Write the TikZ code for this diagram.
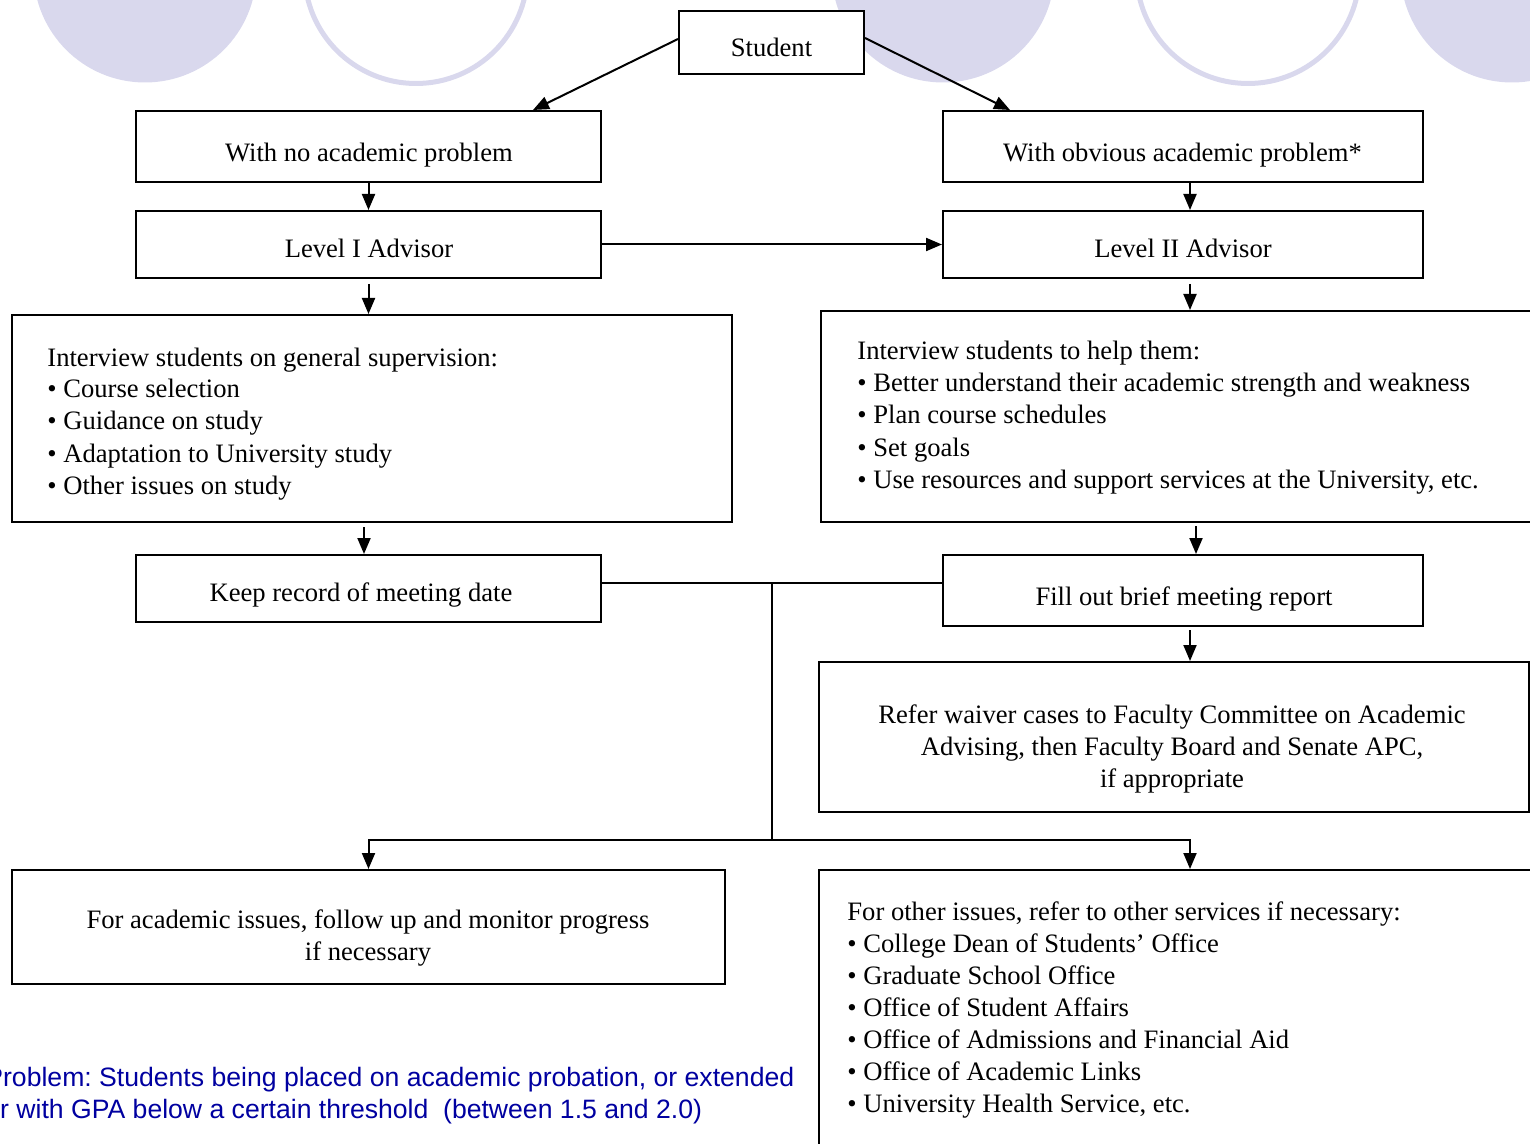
\documentclass[tikz,border=0pt]{standalone}
\usepackage{fontspec}
\setmainfont{Liberation Serif}
\setsansfont{Liberation Sans}
\usetikzlibrary{arrows.meta,calc}
\definecolor{lav}{RGB}{217,216,237}
\definecolor{probblue}{RGB}{0,0,160}
\frenchspacing
\newcommand\Lft[1]{\vtop{\halign{##\hfil\cr#1\crcr}}}
\newcommand\Ctr[1]{\vtop{\halign{\hfil##\hfil\cr#1\crcr}}}
\begin{document}
\begin{tikzpicture}[x=0.5pt,y=-0.5pt,
  bx/.style 2 args={draw, line width=1pt, minimum width=#1*0.5pt, minimum height=#2*0.5pt, inner sep=0pt},
  txt/.style={inner sep=0pt, font=\fontsize{13.3}{16}\selectfont},
  arr/.style={line width=1pt, -{Triangle[width=6.5pt,length=8pt]}},
  ln/.style={line width=1pt},
  disc/.style={fill=lav, draw=none},
  ring/.style={draw=lav, line width=2.5pt}]
\useasboundingbox (0,0) rectangle (1530,1144);
\clip (0,0) rectangle (1530,1144);
% background circles
\fill[disc] (145,-29) circle[radius=55.75pt];
\fill[disc] (943,-29) circle[radius=55.75pt];
\fill[disc] (1512,-29) circle[radius=55.75pt];
\draw[ring] (416,-28) circle[radius=55.75pt];
\draw[ring] (1248,-28) circle[radius=55.75pt];
% boxes
\node[bx={185}{63}, fill=white] (stu) at (771.5,42.5) {};
\node[bx={465}{71}] (nap) at (368.5,146.5) {};
\node[bx={480}{71}] (oap) at (1183,146.5) {};
\node[bx={465}{67}] (l1) at (368.5,244.5) {};
\node[bx={480}{67}] (l2) at (1183,244.5) {};
\node[bx={720}{207}] (intl) at (372,418.5) {};
\node[bx={738}{211}] (intr) at (1190,416.5) {};
\node[bx={465}{67}] (keep) at (368.5,588.5) {};
\node[bx={480}{71}] (fill) at (1183,590.5) {};
\node[bx={710}{150}] (refer) at (1174,737) {};
\node[bx={713}{114}] (acad) at (368.5,927) {};
\node[bx={742}{310}] (other) at (1190,1025) {};
% texts
\node[txt, anchor=base] (tstu) at (771.5,57) {Student};
\node[txt, anchor=base] (tnap) at (369,162) {With no academic problem};
\node[txt, anchor=base] (toap) at (1182.5,162) {With obvious academic problem*};
\node[txt, anchor=base] (tl1) at (369,258) {Level I Advisor};
\node[txt, anchor=base] (tl2) at (1183,258) {Level II Advisor};
\node[txt, anchor=base west] (tintl) at (47,366) {\Lft{Interview students on general supervision:\cr
• Course selection\cr
• Guidance on study\cr
• Adaptation to University study\cr
• Other issues on study}};
\node[txt, anchor=base west] (tintr) at (857,360) {\Lft{Interview students to help them:\cr
• Better understand their academic strength and weakness\cr
• Plan course schedules\cr
• Set goals\cr
• Use resources and support services at the University, etc.}};
\node[txt, anchor=base] (tkeep) at (361,601) {Keep record of meeting date};
\node[txt, anchor=base] (tfill) at (1184,605) {Fill out brief meeting report};
\node[txt, anchor=base] (trefer) at (1172,723) {\Ctr{Refer waiver cases to Faculty Committee on Academic\cr
Advising, then Faculty Board and Senate APC,\cr
if appropriate}};
\node[txt, anchor=base] (tacad) at (368,928) {\Ctr{For academic issues, follow up and monitor progress\cr
if necessary}};
\node[txt, anchor=base west] (tother) at (847,920) {\Lft{For other issues, refer to other services if necessary:\cr
• College Dean of Students’ Office\cr
• Graduate School Office\cr
• Office of Student Affairs\cr
• Office of Admissions and Financial Aid\cr
• Office of Academic Links\cr
• University Health Service, etc.}};
\node[txt, anchor=base west, text=probblue, font=\sffamily\fontsize{13.3}{16}\selectfont] (note) at (-15,1086) {\Lft{Problem: Students being placed on academic probation, or extended\cr
or with GPA below a certain threshold\ \ (between 1.5 and 2.0)}};
% connectors
\coordinate (rc) at (1190,0);
\coordinate (rc2) at (1196,0);
\coordinate (lc2) at (364,0);
\draw[arr] ($(stu.west)+(0,-3.5)$) -- ($(nap.north)+(164.5,0)$);
\draw[arr] ($(stu.east)+(0,-4.5)$) -- ($(oap.north)+(-173,0)$);
\draw[arr] (nap.south) -- (l1.north);
\draw[arr] (oap.south -| rc) -- (l2.north -| rc);
\draw[arr] (l1.east) -- (l2.west);
\draw[arr] ($(l1.south)+(0,5)$) -- (intl.north -| l1.south);
\draw[arr] ($(l2.south -| rc)+(0,5)$) -- (intr.north -| rc);
\draw[arr] ($(intl.south -| lc2)+(0,4)$) -- (keep.north -| lc2);
\draw[arr] ($(intr.south -| rc2)+(0,3)$) -- (fill.north -| rc2);
\draw[arr] ($(fill.south -| rc)+(0,3)$) -- (refer.north -| rc);
\coordinate (j1) at (772,583);
\coordinate (j2) at (772,840);
\draw[ln] (j1 -| keep.east) -- (j1 -| fill.west);
\draw[ln] (j1) -- (j2);
\draw[arr] (j2) -| (acad.north);
\draw[arr] (j2) -| (other.north);
\end{tikzpicture}
\end{document}
